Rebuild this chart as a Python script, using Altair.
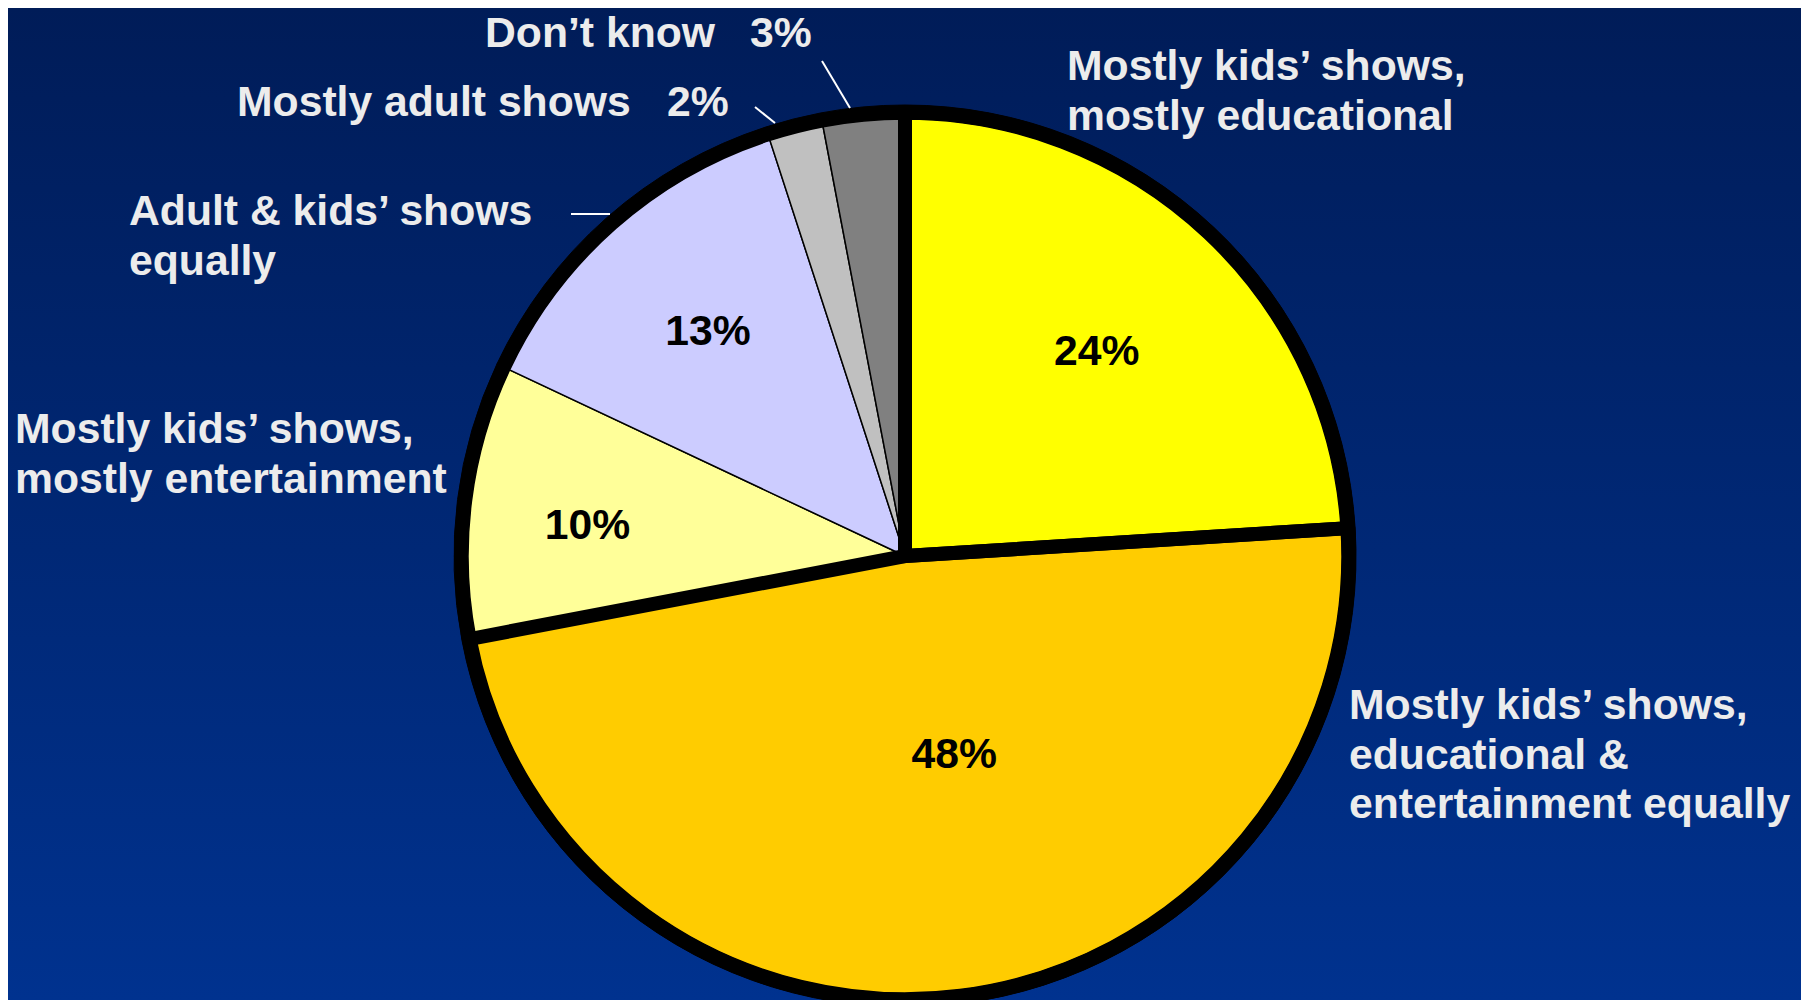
import altair as alt
import pandas as pd

# ---------------- data ----------------
categories = [
    "Mostly kids’ shows, mostly educational",
    "Mostly kids’ shows, educational & entertainment equally",
    "Mostly kids’ shows, mostly entertainment",
    "Adult & kids’ shows equally",
    "Mostly adult shows",
    "Don’t know",
]
values = [24, 48, 10, 13, 2, 3]

# ---------------- style / layout ----------------
slice_colors = ["#FFFF00", "#FFCC00", "#FFFF99", "#CCCCFF", "#C0C0C0", "#808080"]
W, H = 1793, 992
CX, CY = 897, 548          # pie centre (px)
R_FILL, R_OUT = 437, 451   # slice radius / outer black rim
FONT = "Liberation Sans"
FS = 42.7
TXT = "#ECECEC"

# inside percentage labels: radius from centre and nudge (layout)
inner_label_layout = {24: (280, 0, 0), 48: (201, 24, 0), 10: (320, 0, 10), 13: (298, 0, 0)}

# outside labels (layout, px)
out_text = [
    (["Don’t know"], 477, 39),
    (["3%"], 742, 39),
    (["Mostly adult shows"], 229, 108),
    (["2%"], 659, 108),
    (["Adult & kids’ shows", "equally"], 121, 217),
    (["Mostly kids’ shows,", "mostly entertainment"], 7, 435),
    (["Mostly kids’ shows,", "mostly educational"], 1059, 72),
    (["Mostly kids’ shows,", "educational &", "entertainment equally"], 1341, 711),
]
leaders = [
    (814, 53, 842, 100),
    (747, 99, 767, 115),
    (563, 206, 602, 206),
]

df = pd.DataFrame({
    "idx": list(range(len(values))),
    "cat": categories,
    "value": values,
    "pct": [f"{v}%" for v in values],
    "lr": [inner_label_layout.get(v, (0, 0, 0))[0] for v in values],
})
df_text = pd.DataFrame({
    "lines": [t[0] for t in out_text],
    "x": [t[1] for t in out_text],
    "y": [t[2] for t in out_text],
})
df_lead = pd.DataFrame(leaders, columns=["x", "y", "x2", "y2"])

theta_scale = alt.Scale(domain=[0, 100])
pos = dict(x=alt.value(CX), y=alt.value(CY))

base = alt.Chart(df).transform_stack(
    stack="value", groupby=[], sort=[alt.SortField("idx")], as_=["t0", "t1"]
).transform_calculate(mid="(datum.t0 + datum.t1) / 2")

bg = alt.Chart(pd.DataFrame({"a": [0]})).mark_rect(
    fill=alt.Gradient(
        gradient="linear",
        stops=[alt.GradientStop(color="#001C58", offset=0),
               alt.GradientStop(color="#00328F", offset=1)],
        x1=0, x2=0, y1=0, y2=1,
    )
).encode(x=alt.value(0), x2=alt.value(W), y=alt.value(0), y2=alt.value(H))

disk = base.mark_arc(outerRadius=R_OUT, color="black", stroke="black", strokeWidth=1).encode(
    theta=alt.Theta("t0:Q", scale=theta_scale), theta2="t1:Q", **pos
)

slices = base.mark_arc(outerRadius=R_FILL, stroke="black", strokeWidth=1.5).encode(
    theta=alt.Theta("t0:Q", scale=theta_scale), theta2="t1:Q",
    color=alt.Color("cat:N", scale=alt.Scale(domain=categories, range=slice_colors), legend=None),
    **pos
)

thick = base.transform_filter("datum.value >= 20").mark_arc(
    outerRadius=(R_FILL + R_OUT) / 2, stroke="black", strokeWidth=R_OUT - R_FILL,
    fillOpacity=0, strokeJoin="miter"
).encode(theta=alt.Theta("t0:Q", scale=theta_scale), theta2="t1:Q", **pos)

inner_layers = []
for v, (r, ddx, ddy) in inner_label_layout.items():
    inner_layers.append(
        base.transform_filter(f"datum.value == {v}").mark_text(
            font=FONT, fontSize=FS, fontWeight="bold", color="black",
            align="center", baseline="middle", dx=ddx, dy=ddy
        ).encode(theta=alt.Theta("mid:Q", scale=theta_scale),
                 radius=alt.Radius("lr:Q", scale=None), text="pct:N", **pos)
    )

outer = alt.Chart(df_text).mark_text(
    font=FONT, fontSize=FS, fontWeight="bold", color=TXT, align="left",
    baseline="alphabetic", lineHeight=49.5
).encode(x=alt.X("x:Q", scale=None), y=alt.Y("y:Q", scale=None), text="lines:N")

lead = alt.Chart(df_lead).mark_rule(color="white", strokeWidth=2).encode(
    x=alt.X("x:Q", scale=None), y=alt.Y("y:Q", scale=None),
    x2="x2:Q", y2="y2:Q"
)

chart = alt.layer(bg, disk, slices, thick, *inner_layers, lead, outer).properties(
    width=W, height=H, padding=0, autosize="none", background="#00287A"
).configure_view(stroke=None).resolve_scale(theta="shared")

chart.save("out.html", embed_options={"renderer": "svg", "actions": False})
